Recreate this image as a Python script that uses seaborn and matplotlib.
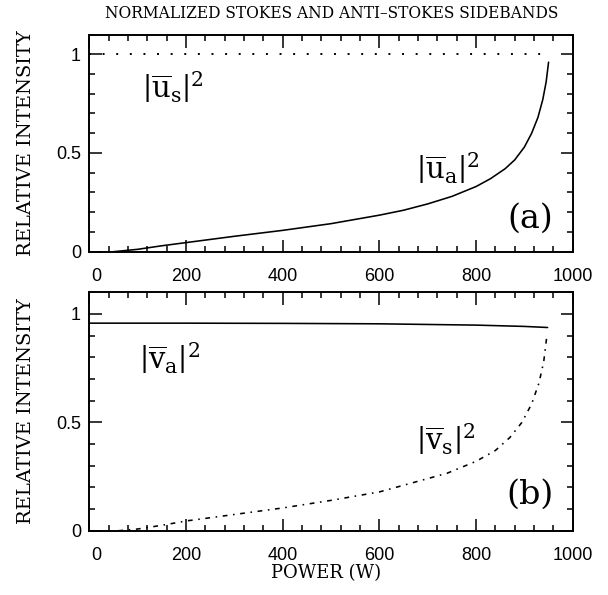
import numpy as np
import pandas as pd
import matplotlib
matplotlib.use("Agg")
import matplotlib.pyplot as plt
import matplotlib.transforms as mtransforms
from matplotlib.ticker import MultipleLocator
import seaborn as sns

# ---------------- data ----------------
power_us = [0, 950]
us_vals = [1.0, 1.0]

power_ua = [50, 100, 150, 200, 300, 400, 500, 600, 650, 700, 750, 800, 830, 860,
            880, 900, 915, 928, 938, 945, 950]
ua_vals = [0.0, 0.012, 0.03, 0.046, 0.078, 0.108, 0.142, 0.185, 0.21, 0.242, 0.28,
           0.33, 0.37, 0.42, 0.465, 0.53, 0.6, 0.68, 0.77, 0.86, 0.96]

power_va = [0, 200, 400, 600, 800, 900, 948]
va_vals = [0.957, 0.957, 0.956, 0.954, 0.948, 0.942, 0.937]

power_vs = [60, 100, 150, 200, 300, 400, 500, 600, 670, 740, 800, 840, 870, 895,
            915, 930, 940, 946]
vs_vals = [0.0, 0.008, 0.025, 0.045, 0.075, 0.105, 0.14, 0.179, 0.222, 0.265,
           0.32, 0.37, 0.43, 0.5, 0.585, 0.68, 0.78, 0.89]

x_ticks = [0, 200, 400, 600, 800, 1000]
y_ticks = [0, 0.5, 1]
y_tick_labels = ["0", "0.5", "1"]

title = "NORMALIZED STOKES AND ANTI\u2013STOKES SIDEBANDS"
ylabel = "RELATIVE INTENSITY"
xlabel = "POWER (W)"

# ---------------- style ----------------
sns.set_style("ticks")
plt.rcParams["font.family"] = ["DejaVu Serif"]
plt.rcParams["mathtext.fontset"] = "dejavuserif"
for k in ("text.color", "axes.labelcolor", "xtick.color", "ytick.color",
          "axes.edgecolor"):
    plt.rcParams[k] = "black"

fig = plt.figure(figsize=(6.08, 5.95), dpi=100)
ax_a = fig.add_axes([0.147, 0.577, 0.795, 0.365])
ax_b = fig.add_axes([0.147, 0.108, 0.795, 0.401])

lw = 1.15


def draw(ax, x, y, ls, w=lw):
    df = pd.DataFrame({"power": x, "val": y})
    sns.lineplot(data=df, x="power", y="val", ax=ax, color="black",
                 linewidth=w, linestyle=ls, sort=False, estimator=None)


draw(ax_a, power_us, us_vals, (0, (1, 6)), w=1.4)
draw(ax_a, power_ua, ua_vals, "-")
draw(ax_b, power_va, va_vals, "-")
draw(ax_b, power_vs, vs_vals, (0, (3, 3.5, 1, 3.5)))

tick_font = dict(family="Liberation Sans", size=13)
for ax in (ax_a, ax_b):
    ax.set_xlim(0, 1000)
    ax.set_ylim(0, 1.1)
    ax.set_xticks(x_ticks)
    ax.set_xticklabels([str(t) for t in x_ticks], fontdict=tick_font)
    ax.set_yticks(y_ticks)
    ax.set_yticklabels(y_tick_labels, fontdict=tick_font)
    ax.xaxis.set_minor_locator(MultipleLocator(40))
    ax.yaxis.set_minor_locator(MultipleLocator(0.1))
    ax.tick_params(which="both", direction="in", top=True, right=True,
                   width=1.1, color="black")
    ax.tick_params(which="major", length=9)
    ax.tick_params(which="minor", length=4.5)
    ax.tick_params(axis="x", which="major", pad=12)
    ax.tick_params(axis="y", which="major", pad=6)
    for s in ax.spines.values():
        s.set_linewidth(1.4)
        s.set_color("black")
    ax.set_xlabel("")
    ax.set_ylabel(ylabel, fontsize=14, family="DejaVu Serif")
    ax.yaxis.set_label_coords(-0.112, 0.5)
    # shift the "0" x tick label slightly right as in the reference
    offset = mtransforms.ScaledTranslation(7 / 100, 0, fig.dpi_scale_trans)
    lab0 = ax.get_xticklabels()[0]
    lab0.set_transform(lab0.get_transform() + offset)

ax_b.set_xlabel(xlabel, fontsize=13, family="DejaVu Serif")
ax_b.xaxis.set_label_coords(0.49, -0.14)

fig.text(0.545, 0.978, title, ha="center", va="center", fontsize=11.2,
         family="DejaVu Serif")

lab_fs = 21
ax_a.text(108, 0.835, r"$\left|\overline{\mathrm{u}}_{\mathrm{s}}\right|^{2}$",
          fontsize=lab_fs, ha="left", va="center")
ax_a.text(676, 0.42, r"$\left|\overline{\mathrm{u}}_{\mathrm{a}}\right|^{2}$",
          fontsize=lab_fs, ha="left", va="center")
ax_b.text(102, 0.795, r"$\left|\overline{\mathrm{v}}_{\mathrm{a}}\right|^{2}$",
          fontsize=lab_fs, ha="left", va="center")
ax_b.text(676, 0.42, r"$\left|\overline{\mathrm{v}}_{\mathrm{s}}\right|^{2}$",
          fontsize=lab_fs, ha="left", va="center")
ax_a.text(912, 0.165, "(a)", fontsize=24, ha="center", va="center")
ax_b.text(912, 0.165, "(b)", fontsize=24, ha="center", va="center")

fig.savefig("out.png", dpi=100)
